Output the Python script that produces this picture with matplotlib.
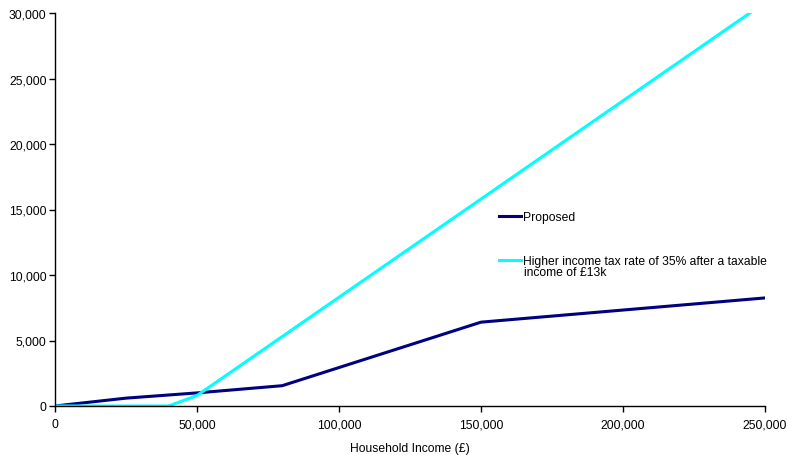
import matplotlib.pyplot as plt
from matplotlib.ticker import FuncFormatter

plt.rcParams['font.family'] = ['Liberation Sans', 'DejaVu Sans']

# Proposed scheme
proposed_income = [0, 25000, 50000, 80000, 150000, 250000]
proposed_tax = [0, 600, 1000, 1550, 6400, 8250]

# Higher income tax rate alternative
higher_income = [0, 40000, 50000, 250000]
higher_tax = [0, 0, 800, 30800]

x_ticks = [0, 50000, 100000, 150000, 200000, 250000]
y_ticks = [0, 5000, 10000, 15000, 20000, 25000, 30000]

fs = 8.7

fig = plt.figure(figsize=(7.88, 4.56), dpi=100)
ax = fig.add_axes([55 / 788, 49 / 456, 710 / 788, 393 / 456])

ax.plot(proposed_income, proposed_tax, color='#000080', lw=2.2,
        label='Proposed')
ax.plot(higher_income, higher_tax, color='#00FFFF', lw=2.2,
        label='Higher income tax rate of 35% after a taxable')

ax.set_xlim(0, 250000)
ax.set_ylim(0, 30000)
ax.set_xticks(x_ticks)
ax.set_yticks(y_ticks)
fmt = FuncFormatter(lambda v, p: f'{int(v):,}')
ax.xaxis.set_major_formatter(fmt)
ax.yaxis.set_major_formatter(fmt)
ax.tick_params(direction='out', length=4, width=1, labelsize=fs,
               colors='black')
ax.tick_params(axis='y', pad=2)
ax.tick_params(axis='x', pad=5)
for side in ['top', 'right']:
    ax.spines[side].set_visible(False)
for side in ['left', 'bottom']:
    ax.spines[side].set_linewidth(1)
ax.set_xlabel('Household Income (£)', fontsize=fs, labelpad=8)

ax.legend(loc='upper left', bbox_to_anchor=(488 / 788, 1 - 201 / 456),
          bbox_transform=fig.transFigure, frameon=False, fontsize=fs,
          handlelength=1.8, handletextpad=0.2, labelspacing=2.65)
# second line of the long legend label
fig.text(524 / 788, 1 - 276 / 456, 'income of £13k', fontsize=fs,
         va='baseline', ha='left')

fig.savefig('out.png', dpi=100)
